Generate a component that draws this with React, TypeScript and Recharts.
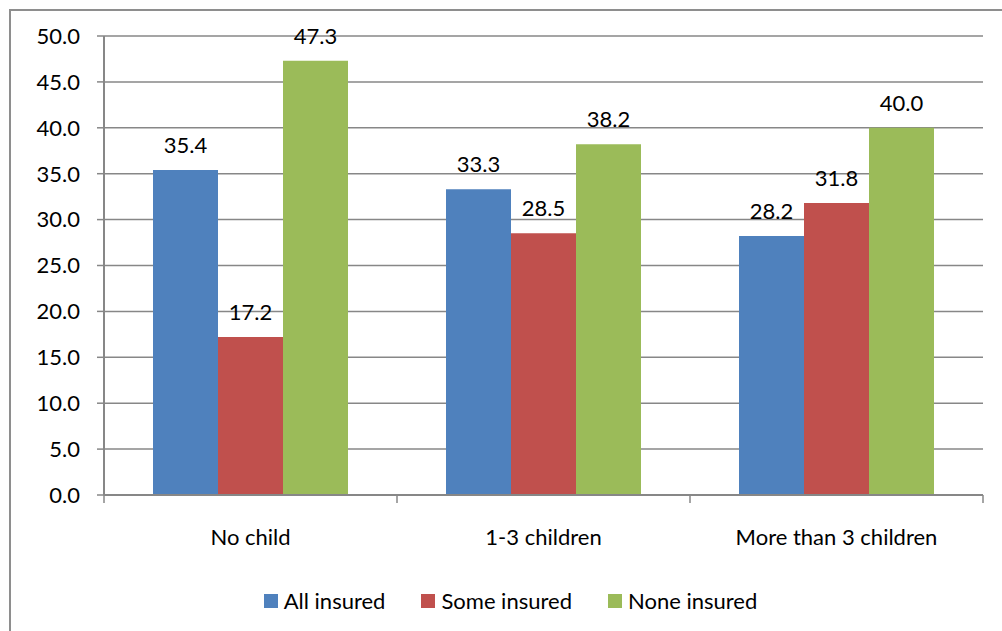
import React from 'react';
import { BarChart, Bar, XAxis, YAxis, CartesianGrid, Legend, LabelList } from 'recharts';

const categories = ['No child', '1-3 children', 'More than 3 children'];
const seriesNames = ['All insured', 'Some insured', 'None insured'];
const allInsured = [35.4, 33.3, 28.2];
const someInsured = [17.2, 28.5, 31.8];
const noneInsured = [47.3, 38.2, 40.0];
const yTicks = [0, 5, 10, 15, 20, 25, 30, 35, 40, 45, 50];

const data = categories.map((name, i) => ({
  name,
  all: allInsured[i],
  some: someInsured[i],
  none: noneInsured[i],
}));

const W = 1002;
const H = 631;
const margin = { top: 36, right: 19, left: 0, bottom: 14 };
const yAxisWidth = 104;
const plotW = W - margin.left - margin.right - yAxisWidth;
const band = plotW / categories.length;
const FONT = 'Lato, "Open Sans", sans-serif';
const FS = 22;
const axisColor = '#878787';

const CategoryTick = (props: any) => {
  const { x, y, payload, index } = props;
  const left = x - band / 2;
  return (
    <g>
      <line x1={left} y1={y} x2={left} y2={y + 8} stroke={axisColor} strokeWidth={1.5} />
      {index === categories.length - 1 && (
        <line x1={x + band / 2} y1={y} x2={x + band / 2} y2={y + 8} stroke={axisColor} strokeWidth={1.5} />
      )}
      <text x={x} y={y + 50} textAnchor="middle" fill="#000" fontSize={FS} fontFamily={FONT}>
        {payload.value}
      </text>
    </g>
  );
};

const LegendContent = ({ payload }: any) => {
  const items = [...(payload || [])].sort(
    (a: any, b: any) => seriesNames.indexOf(a.value) - seriesNames.indexOf(b.value)
  );
  return (
    <div style={{ display: 'flex', justifyContent: 'center', gap: 36, fontFamily: FONT, fontSize: FS, color: '#000' }}>
      {items.map((p: any) => (
        <div key={p.value} style={{ display: 'flex', alignItems: 'center' }}>
          <span style={{ display: 'inline-block', width: 14, height: 14, background: p.color, marginRight: 6 }} />
          <span>{p.value}</span>
        </div>
      ))}
    </div>
  );
};

const fmt = (v: any) => Number(v).toFixed(1);

export default function App() {
  return (
    <div style={{ position: 'absolute', left: 0, top: 0, width: W, height: H, overflow: 'hidden', background: '#fff' }}>
      <div
        style={{
          position: 'absolute',
          left: 9,
          top: 9,
          width: W - 9,
          height: H - 9,
          borderTop: '2px solid #8e8e8e',
          borderLeft: '2px solid #8e8e8e',
          boxSizing: 'border-box',
        }}
      />
      <div style={{ position: 'absolute', left: 0, top: 0 }}>
        <BarChart width={W} height={H} data={data} margin={margin} barCategoryGap={49} barGap={0} style={{ fontFamily: FONT }}>
          <CartesianGrid vertical={false} stroke={axisColor} strokeWidth={1.5} />
          <XAxis
            dataKey="name"
            height={92}
            tickSize={0}
            tickMargin={0}
            tickLine={false}
            axisLine={{ stroke: axisColor, strokeWidth: 2 }}
            tick={<CategoryTick />}
            interval={0}
          />
          <YAxis
            width={yAxisWidth}
            domain={[0, 50]}
            ticks={yTicks}
            interval={0}
            tickSize={7}
            tickMargin={17}
            tickFormatter={(v: number) => v.toFixed(1)}
            tick={{ fill: '#000', fontSize: FS, fontFamily: FONT }}
            axisLine={{ stroke: axisColor, strokeWidth: 2 }}
            tickLine={{ stroke: axisColor, strokeWidth: 1.5 }}
          />
          <Legend
            verticalAlign="bottom"
            content={<LegendContent />}
            wrapperStyle={{ left: 19, width: 983, height: 30 }}
          />
          <Bar dataKey="all" name={seriesNames[0]} fill="#4F81BD" isAnimationActive={false}>
            <LabelList dataKey="all" position="top" offset={17} formatter={fmt} fill="#000" fontSize={FS} fontFamily={FONT} />
          </Bar>
          <Bar dataKey="some" name={seriesNames[1]} fill="#C0504D" isAnimationActive={false}>
            <LabelList dataKey="some" position="top" offset={17} formatter={fmt} fill="#000" fontSize={FS} fontFamily={FONT} />
          </Bar>
          <Bar dataKey="none" name={seriesNames[2]} fill="#9BBB59" isAnimationActive={false}>
            <LabelList dataKey="none" position="top" offset={17} formatter={fmt} fill="#000" fontSize={FS} fontFamily={FONT} />
          </Bar>
        </BarChart>
      </div>
    </div>
  );
}
